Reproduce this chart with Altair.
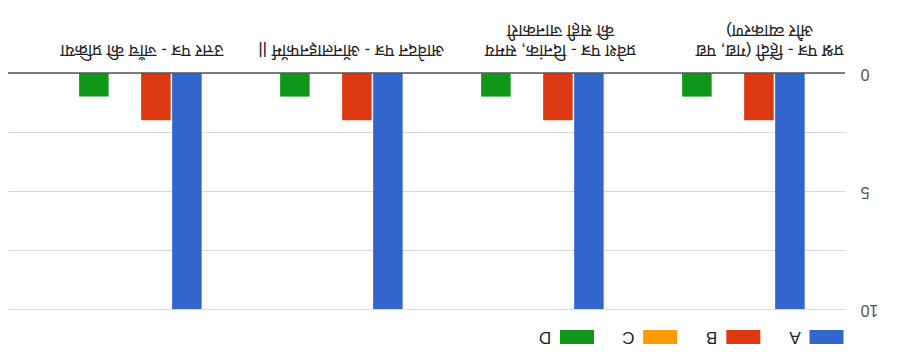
import altair as alt
import pandas as pd

# ---- data read from the (upside-down) reference ----
categories = [
    "प्रश्न पत्र - हिंदी (गद्य, पद्य\nऔर व्याकरण)",
    "प्रवेश पत्र - दिनांक, समय\nकी सही जानकारी",
    "आवेदन पत्र - ऑनलाइनफॉर्म ||",
    "उत्तर पत्र - जाँच की प्रक्रिया",
]
series = ["A", "B", "C", "D"]
values_A = [10, 10, 10, 10]
values_B = [2, 2, 2, 2]
values_C = [0, 0, 0, 0]
values_D = [1, 1, 1, 1]
colors = ["#3366cc", "#dc3912", "#ff9900", "#109618"]
grid_values = [0, 2.5, 5, 7.5, 10]

rows = []
for i, c in enumerate(categories):
    for s, vals in zip(series, [values_A, values_B, values_C, values_D]):
        rows.append({"category": c, "series": s, "value": vals[i]})
df = pd.DataFrame(rows)

line_rows = []
for c in categories:
    parts = c.split("\n")
    line_rows.append({
        "category": c,
        "line1": parts[0],
        "line2": parts[1] if len(parts) > 1 else "",
    })
cat_df = pd.DataFrame(line_rows)
leg_df = pd.DataFrame({"series": series})

cat_order = categories[::-1]
off_order = series[::-1]

FONT = "Liberation Sans, Arial, Noto Sans, sans-serif"

x_scale = alt.Scale(domain=cat_order, paddingInner=0.383, paddingOuter=0.2735, align=0.64)
y_scale = alt.Scale(domain=[0, 10], reverse=True, nice=False)

bars = alt.Chart(df).mark_bar().encode(
    x=alt.X("category:N", scale=x_scale, axis=None),
    xOffset=alt.XOffset("series:N", scale=alt.Scale(domain=off_order, paddingInner=0.048, paddingOuter=0.024)),
    y=alt.Y(
        "value:Q",
        scale=y_scale,
        axis=alt.Axis(
            orient="right", values=grid_values, title=None,
            labelExpr="datum.value % 5 == 0 ? datum.label : ''",
            labelAngle=180, labelAlign="right", labelBaseline="middle",
            labelPadding=15, tickSize=0, ticks=False, domain=False,
            grid=True, gridColor="#d9d9d9", labelColor="#555555",
            labelFontSize=16, labelFont=FONT,
        ),
    ),
    color=alt.Color("series:N", scale=alt.Scale(domain=series, range=colors), legend=None),
)

baseline = alt.Chart(pd.DataFrame({"v": [0]})).mark_rule(color="#555555", strokeWidth=1.5).encode(
    y=alt.Y("v:Q", scale=y_scale)
)

label_style = dict(angle=180, align="center", baseline="top", fontSize=17, color="#222222", font=FONT)

cat_line1 = alt.Chart(cat_df).mark_text(**label_style).encode(
    x=alt.X("category:N", scale=x_scale, axis=None),
    y=alt.value(-15),
    text="line1:N",
)
cat_line2 = alt.Chart(cat_df).mark_text(**label_style).encode(
    x=alt.X("category:N", scale=x_scale, axis=None),
    y=alt.value(-35),
    text="line2:N",
)

leg_swatch = alt.Chart(leg_df).mark_rect(width=34, height=14).encode(
    x=alt.X("series:N", scale=alt.Scale(domain=off_order, type="point", range=[569, 818.5], padding=0), axis=None),
    y=alt.value(264),
    color=alt.Color("series:N", scale=alt.Scale(domain=series, range=colors), legend=None),
)

leg_text = alt.Chart(leg_df).mark_text(
    angle=180, align="center", baseline="middle", fontSize=17, color="#222222", font=FONT,
).encode(
    x=alt.X("series:N", scale=alt.Scale(domain=off_order, type="point", range=[537, 787], padding=0), axis=None),
    y=alt.value(264),
    text="series:N",
)

chart = alt.layer(bars, baseline, cat_line1, cat_line2, leg_swatch, leg_text).resolve_scale(
    x="independent"
).properties(
    width=837, height=236,
    padding={"left": 0, "top": 65, "right": 68, "bottom": 44},
    autosize=alt.AutoSizeParams(type="none"),
    background="white",
).configure_view(stroke=None)

chart.save("out.html", embed_options={"renderer": "svg", "actions": False})
